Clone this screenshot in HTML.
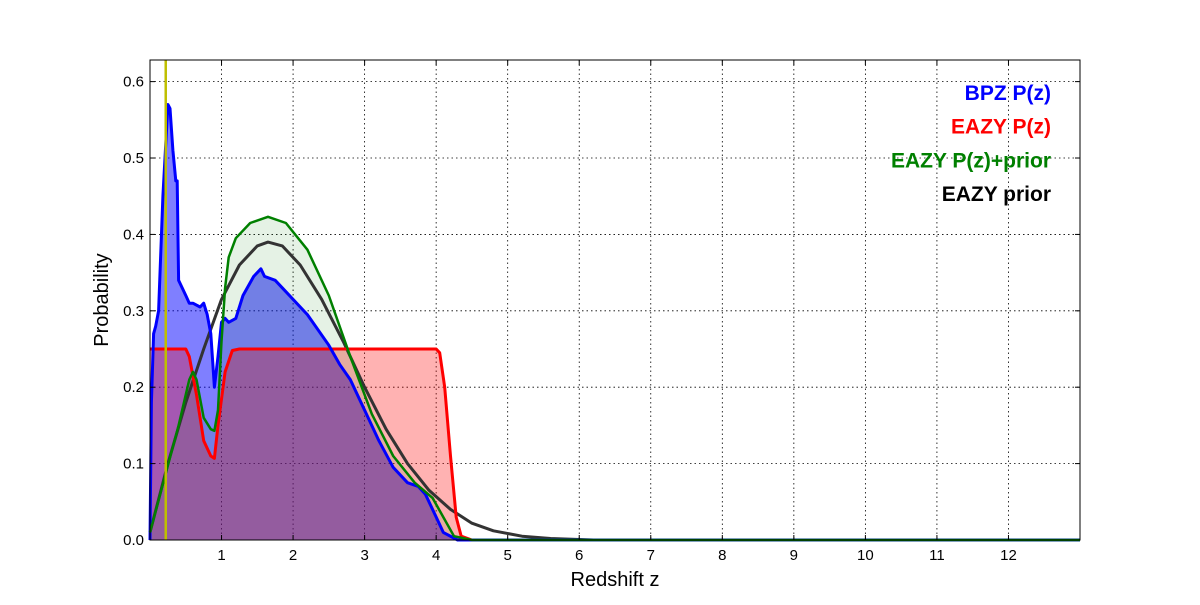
<!DOCTYPE html>
<html><head><meta charset="utf-8"><style>
body{margin:0;background:#fff}
text{font-family:"Liberation Sans","DejaVu Sans",sans-serif}
</style></head><body>
<svg id="chart" width="1200" height="600" viewBox="0 0 1200 600" xmlns="http://www.w3.org/2000/svg">
<rect width="1200" height="600" fill="#fff"/>
<g id="grid"></g>
<g id="fills"></g>
<g id="lines"></g>
<g id="axes"></g>
<g id="legend"></g>
</svg>
<script>
const xTicks=[1,2,3,4,5,6,7,8,9,10,11,12];
const yTicks=[0.0,0.1,0.2,0.3,0.4,0.5,0.6];
const bpzZ=[0,0.02,0.05,0.08,0.12,0.18,0.25,0.28,0.32,0.36,0.38,0.40,0.45,0.5,0.55,0.6,0.7,0.75,0.8,0.85,0.9,0.95,1.0,1.05,1.1,1.2,1.3,1.45,1.55,1.6,1.75,1.9,2.0,2.2,2.5,2.65,2.8,3.0,3.2,3.4,3.6,3.75,3.85,4.0,4.1,4.3,13];
const bpzP=[0,0.18,0.27,0.28,0.30,0.45,0.57,0.565,0.51,0.47,0.47,0.34,0.33,0.32,0.31,0.31,0.305,0.31,0.295,0.27,0.20,0.24,0.285,0.29,0.285,0.29,0.32,0.345,0.355,0.345,0.34,0.325,0.315,0.295,0.255,0.23,0.21,0.17,0.13,0.095,0.075,0.07,0.06,0.03,0.01,0,0];
const eazyZ=[0,0.5,0.55,0.65,0.75,0.85,0.9,0.95,1.05,1.15,1.25,4.0,4.05,4.12,4.2,4.28,4.35,4.5,13];
const eazyP=[0.25,0.25,0.24,0.19,0.13,0.11,0.107,0.15,0.22,0.248,0.25,0.25,0.245,0.2,0.11,0.03,0.005,0,0];
const priorPostZ=[0,0.2,0.4,0.55,0.6,0.65,0.75,0.85,0.9,0.95,1.0,1.05,1.1,1.2,1.4,1.65,1.9,2.2,2.5,2.8,3.1,3.4,3.7,3.95,4.1,4.25,4.5,13];
const priorPostP=[0.01,0.08,0.15,0.21,0.22,0.21,0.16,0.145,0.143,0.17,0.26,0.33,0.37,0.395,0.415,0.423,0.415,0.38,0.32,0.24,0.165,0.11,0.075,0.055,0.03,0.005,0,0];
const priorZ=[0,0.25,0.5,0.75,1.0,1.25,1.5,1.65,1.85,2.1,2.4,2.7,3.0,3.3,3.6,3.9,4.2,4.5,4.8,5.2,5.6,6.2,13];
const priorP=[0.01,0.1,0.18,0.25,0.315,0.36,0.385,0.39,0.385,0.36,0.315,0.26,0.2,0.145,0.1,0.065,0.04,0.022,0.012,0.005,0.002,0,0];
const specZ=0.22;
const X0=150,X1=1080,Y0=540,Y1=60,ZMAX=13,PMAX=0.6283;
const sx=z=>X0+(X1-X0)*z/ZMAX;
const sy=p=>Y0-(Y0-Y1)*p/PMAX;
const NS="http://www.w3.org/2000/svg";
function mk(tag,parent,attrs){const e=document.createElementNS(NS,tag);for(const k in attrs)e.setAttribute(k,attrs[k]);parent.appendChild(e);return e;}
function pts(zs,ps){return zs.map((z,i)=>sx(z).toFixed(1)+","+sy(ps[i]).toFixed(1)).join(" ");}
const grid=document.getElementById('grid'),fills=document.getElementById('fills'),lines=document.getElementById('lines'),axes=document.getElementById('axes'),legend=document.getElementById('legend');
xTicks.forEach(t=>{const l=mk('line',grid,{x1:sx(t),x2:sx(t),y1:Y1,y2:Y0,stroke:'#000','stroke-dasharray':'1.5,3','stroke-width':0.8});

});
yTicks.forEach(t=>{const l=mk('line',grid,{x1:X0,x2:X1,y1:sy(t),y2:sy(t),stroke:'#000','stroke-dasharray':'1.5,3','stroke-width':0.8});

});
function area(zs,ps,fill,name){const p=mk('polygon',fills,{points:sx(zs[0])+","+sy(0)+" "+pts(zs,ps)+" "+sx(zs[zs.length-1])+","+sy(0),fill:fill});

}
area(bpzZ,bpzP,'rgba(0,0,255,0.5)','bpz-fill');
area(eazyZ,eazyP,'rgba(255,0,0,0.3)','eazy-fill');
area(priorPostZ,priorPostP,'rgba(0,128,0,0.1)','eazy-prior-fill');
function line(zs,ps,col,w,name){const p=mk('polyline',lines,{points:pts(zs,ps),fill:'none',stroke:col,'stroke-width':w,'stroke-linejoin':'round'});

}
line(priorZ,priorP,'#333',3,'eazy-prior-line');
line(eazyZ,eazyP,'#ff0000',3,'eazy-pz-line');
line(bpzZ,bpzP,'#0000ff',3,'bpz-pz-line');
line(priorPostZ,priorPostP,'#008000',2.5,'eazy-pz-prior-line');
const sl=mk('line',lines,{x1:sx(specZ),x2:sx(specZ),y1:Y1,y2:Y0,stroke:'#bfbf00','stroke-width':2.5});


const fr=mk('rect',axes,{x:X0,y:Y1,width:X1-X0,height:Y0-Y1,fill:'none',stroke:'#000','stroke-width':1});


xTicks.forEach(t=>{const tx=mk('text',axes,{x:sx(t),y:560,'text-anchor':'middle','font-size':15});tx.textContent=t;


mk('line',axes,{x1:sx(t),x2:sx(t),y1:Y0,y2:Y0-5,stroke:'#000'});mk('line',axes,{x1:sx(t),x2:sx(t),y1:Y1,y2:Y1+5,stroke:'#000'});});
yTicks.forEach(t=>{const tx=mk('text',axes,{x:144,y:sy(t)+5,'text-anchor':'end','font-size':15});tx.textContent=t.toFixed(1);


mk('line',axes,{x1:X0,x2:X0+5,y1:sy(t),y2:sy(t),stroke:'#000'});mk('line',axes,{x1:X1,x2:X1-5,y1:sy(t),y2:sy(t),stroke:'#000'});});
const xt=mk('text',axes,{x:615,y:586,'text-anchor':'middle','font-size':20});xt.textContent='Redshift z';


const yt=mk('text',axes,{x:108,y:300,'text-anchor':'middle','font-size':20,transform:'rotate(-90 108 300)'});yt.textContent='Probability';


const legLabels=['BPZ P(z)','EAZY P(z)','EAZY P(z)+prior','EAZY prior'];
const legColors=['#0000ff','#ff0000','#008000','#000000'];
legLabels.forEach((s,i)=>{const t=mk('text',legend,{x:1051,y:100+i*33.7,'text-anchor':'end','font-size':21,'font-weight':'bold',fill:legColors[i]});t.textContent=s;

});
</script>
</body></html>
